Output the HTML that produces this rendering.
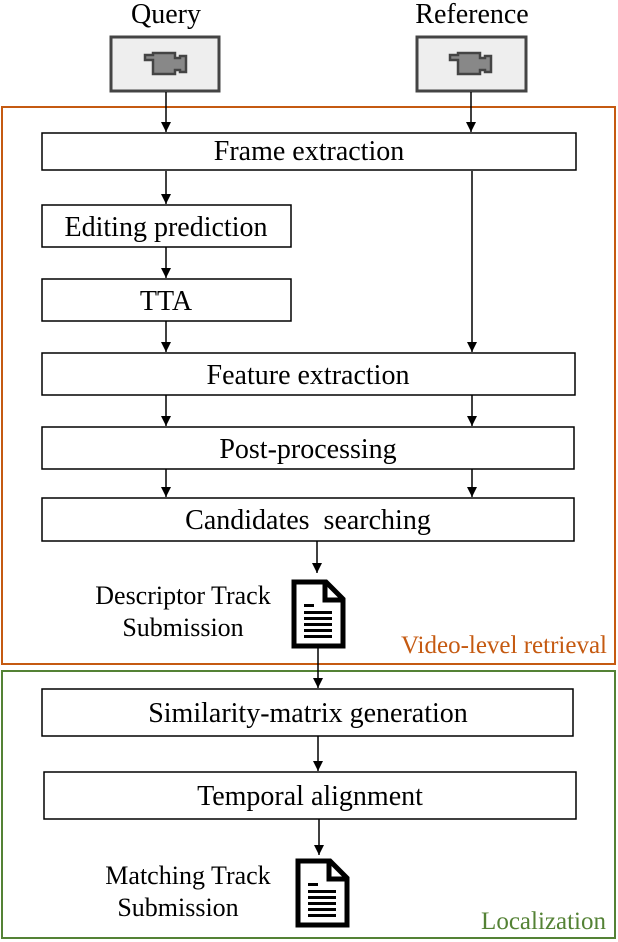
<!DOCTYPE html>
<html><head><style>body{margin:0;background:#fff}svg{display:block}</style></head>
<body>
<svg width="618" height="942" xmlns="http://www.w3.org/2000/svg" font-family="Liberation Serif, serif" font-size="28">
<defs>
<marker id="a" markerWidth="10" markerHeight="10" refX="10" refY="5" orient="auto" markerUnits="userSpaceOnUse">
<path d="M0,0 L10,5 L0,10 Z" fill="#000"/></marker>
<g id="doc"><path d="M2,2 H34 L51,19 V66 H2 Z" fill="#fff" stroke="#000" stroke-width="5"/>
<path d="M33,2 V20 H51" fill="none" stroke="#000" stroke-width="5"/>
<rect x="12" y="24" width="10" height="3"/><rect x="12" y="31" width="28" height="3"/><rect x="12" y="37" width="28" height="3"/><rect x="12" y="43" width="28" height="3"/><rect x="12" y="49" width="28" height="3"/><rect x="12" y="55" width="28" height="3"/></g>
<g id="cam"><path d="M-21,-8 H-13 V-10 H9 V-5 L14,-5 V-7 H20 V9 H14 V7 L9,7 V11 H-13 V-3 H-21 Z" fill="#888" stroke="#444" stroke-width="2.5"/></g>
</defs>
<rect x="2" y="107" width="613" height="557" fill="none" stroke="#c55a11" stroke-width="2"/>
<rect x="2" y="671" width="613" height="267" fill="none" stroke="#548235" stroke-width="2"/>
<text x="166" y="23" text-anchor="middle">Query</text>
<text x="472" y="23" text-anchor="middle">Reference</text>
<rect x="111" y="37" width="108" height="54" fill="#eee" stroke="#444" stroke-width="3"/>
<rect x="417" y="37" width="109" height="54" fill="#eee" stroke="#444" stroke-width="3"/>
<use href="#cam" x="166" y="63"/><use href="#cam" x="471" y="63"/>
<g stroke="#000" stroke-width="1.5" fill="#fff">
<rect x="42" y="133" width="534" height="37"/>
<rect x="42" y="205" width="249" height="42"/>
<rect x="42" y="279" width="249" height="42"/>
<rect x="42" y="353" width="533" height="42"/>
<rect x="42" y="427" width="532" height="42"/>
<rect x="42" y="498" width="532" height="43"/>
<rect x="42" y="689" width="531" height="47"/>
<rect x="44" y="772" width="532" height="47"/>
</g>
<g stroke="#000" stroke-width="1.5" marker-end="url(#a)">
<line x1="166" y1="92" x2="166" y2="132"/>
<line x1="471" y1="92" x2="471" y2="132"/>
<line x1="166" y1="171" x2="166" y2="204"/>
<line x1="166" y1="247" x2="166" y2="278"/>
<line x1="166" y1="321" x2="166" y2="352"/>
<line x1="472" y1="171" x2="472" y2="352"/>
<line x1="166" y1="395" x2="166" y2="426"/>
<line x1="472" y1="395" x2="472" y2="426"/>
<line x1="166" y1="469" x2="166" y2="497"/>
<line x1="472" y1="469" x2="472" y2="497"/>
<line x1="317" y1="541" x2="317" y2="573"/>
<line x1="318" y1="648" x2="318" y2="688"/>
<line x1="318" y1="736" x2="318" y2="771"/>
<line x1="319" y1="819" x2="319" y2="855"/>
</g>
<g text-anchor="middle">
<text x="309" y="160">Frame extraction</text>
<text x="166" y="236">Editing prediction</text>
<text x="166" y="310">TTA</text>
<text x="308" y="384">Feature extraction</text>
<text x="308" y="458">Post-processing</text>
<text x="308" y="529">Candidates&#160; searching</text>
<text x="308" y="722">Similarity-matrix generation</text>
<text x="310" y="805">Temporal alignment</text>
<text x="183" y="604" font-size="26">Descriptor Track</text>
<text x="183" y="636" font-size="26">Submission</text>
<text x="188" y="884" font-size="26">Matching Track</text>
<text x="178" y="916" font-size="26">Submission</text>
</g>
<text x="607" y="653" text-anchor="end" font-size="25" fill="#c55a11">Video-level retrieval</text>
<text x="606" y="929" text-anchor="end" font-size="25" fill="#548235">Localization</text>
<use href="#doc" x="292" y="580"/>
<use href="#doc" x="296" y="859"/>
</svg>
</body></html>
